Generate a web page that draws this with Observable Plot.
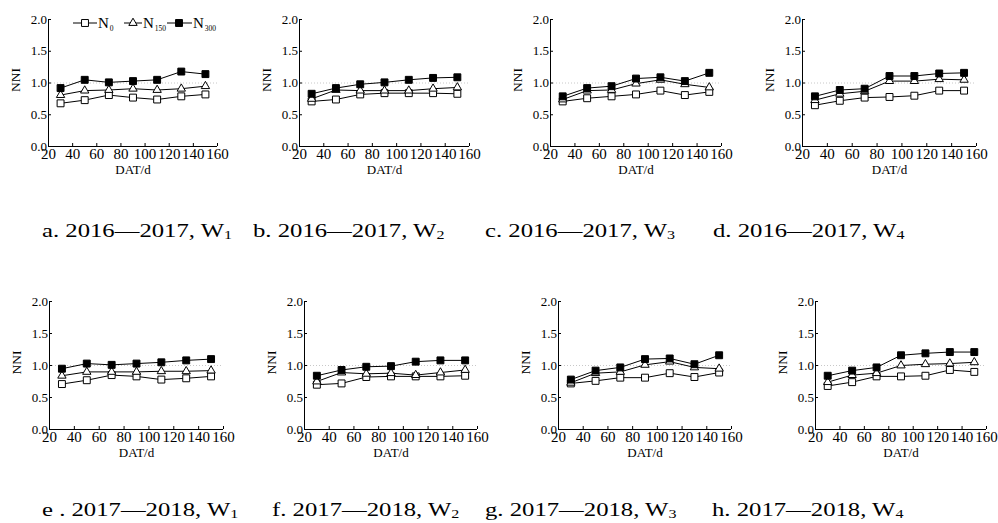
<!DOCTYPE html>
<html>
<head>
<meta charset="utf-8">
<script src="https://cdn.jsdelivr.net/npm/d3@7"></script>
<script src="https://cdn.jsdelivr.net/npm/@observablehq/plot@0.6"></script>
<style>
  body { margin: 0; background: #fff; }
  #fig { position: relative; width: 998px; height: 523px; overflow: hidden; background: #fff;
         font-family: "Liberation Serif", "Times New Roman", serif; color: #000; }
  #fig svg, #fig svg text { font-family: "Liberation Serif", "Times New Roman", serif !important; }
  .panel { position: absolute; }
  .panel svg { overflow: visible; max-width: none !important; display: block; }
  .cap { position: absolute; font-size: 19px; line-height: 19px; white-space: nowrap;
         transform-origin: left top; transform: scaleX(1.3); }
  .cap .sb { font-size: 0.65em; position: relative; top: 0.2em; }
  #legend { position: absolute; left: 0; top: 0; }
</style>
</head>
<body>
<div id="fig"></div>
<script>
// ---------------- data ----------------
const dat = [30, 50, 70, 90, 110, 130, 150];           // days after transplanting
const xTicks = [20, 40, 60, 80, 100, 120, 140, 160];
const yTicks = [0, 0.5, 1.0, 1.5, 2.0];
const treatments = ["N0", "N150", "N300"];
const treatmentSubs = ["0", "150", "300"];
const panelIds = ["a", "b", "c", "d", "e", "f", "g", "h"];
const captionPrefix = ["a.", "b.", "c.", "d.", "e .", "f.", "g.", "h."];
const seasons = ["2016—2017", "2016—2017", "2016—2017", "2016—2017",
                 "2017—2018", "2017—2018", "2017—2018", "2017—2018"];
const waterSubs = ["1", "2", "3", "4", "1", "2", "3", "4"];

const nni_N0 = [
  [0.68, 0.73, 0.81, 0.77, 0.74, 0.79, 0.82],
  [0.71, 0.74, 0.82, 0.84, 0.84, 0.84, 0.83],
  [0.71, 0.76, 0.79, 0.82, 0.88, 0.81, 0.86],
  [0.65, 0.72, 0.77, 0.78, 0.80, 0.88, 0.88],
  [0.71, 0.77, 0.85, 0.83, 0.78, 0.80, 0.83],
  [0.70, 0.72, 0.82, 0.83, 0.83, 0.83, 0.84],
  [0.72, 0.76, 0.81, 0.81, 0.88, 0.82, 0.89],
  [0.68, 0.74, 0.83, 0.83, 0.84, 0.93, 0.90]
];
const nni_N150 = [
  [0.81, 0.88, 0.89, 0.91, 0.89, 0.91, 0.95],
  [0.75, 0.89, 0.88, 0.88, 0.88, 0.91, 0.93],
  [0.74, 0.88, 0.89, 0.99, 1.05, 0.98, 0.93],
  [0.73, 0.83, 0.87, 1.03, 1.03, 1.06, 1.05],
  [0.84, 0.90, 0.90, 0.90, 0.91, 0.91, 0.92],
  [0.75, 0.89, 0.87, 0.88, 0.85, 0.89, 0.93],
  [0.73, 0.88, 0.90, 1.01, 1.06, 0.97, 0.95],
  [0.74, 0.85, 0.88, 1.00, 1.02, 1.03, 1.05]
];
const nni_N300 = [
  [0.92, 1.05, 1.01, 1.03, 1.05, 1.18, 1.14],
  [0.83, 0.92, 0.98, 1.01, 1.05, 1.08, 1.09],
  [0.79, 0.92, 0.95, 1.07, 1.09, 1.03, 1.16],
  [0.79, 0.89, 0.91, 1.11, 1.11, 1.15, 1.16],
  [0.95, 1.03, 1.01, 1.03, 1.05, 1.08, 1.10],
  [0.84, 0.93, 0.98, 0.99, 1.06, 1.08, 1.08],
  [0.78, 0.92, 0.97, 1.10, 1.11, 1.02, 1.16],
  [0.84, 0.92, 0.97, 1.16, 1.19, 1.21, 1.21]
];
const seriesValues = {N0: nni_N0, N150: nni_N150, N300: nni_N300};

// ---------------- styles / layout ----------------
const FONT = '"Liberation Serif", "Times New Roman", serif';
const seriesStyle = {
  N0:   {symbol: "square",   fill: "white", r: 3.9},
  N150: {symbol: "triangle", fill: "white", r: 3.1},
  N300: {symbol: "square",   fill: "black", r: 3.9}
};
// plot-area boxes (frame of each panel, in page pixels)
const boxes = [
  {x: 48,  y: 19,  w: 169, h: 127},
  {x: 299, y: 19,  w: 170, h: 127},
  {x: 550, y: 19,  w: 171, h: 127},
  {x: 802, y: 19,  w: 174, h: 127},
  {x: 49,  y: 301, w: 174, h: 128},
  {x: 304, y: 301, w: 173, h: 128},
  {x: 558, y: 301, w: 173, h: 128},
  {x: 815, y: 301, w: 171, h: 128}
];
const captionPos = [
  {x: 42, y: 221}, {x: 253, y: 221}, {x: 485, y: 221}, {x: 713, y: 221},
  {x: 42, y: 500}, {x: 272, y: 500}, {x: 485, y: 500}, {x: 712, y: 500}
];
const M = {top: 12, right: 16, bottom: 38, left: 42};

const fig = document.getElementById("fig");

panelIds.forEach((id, p) => {
  const b = boxes[p];
  const rows = [];
  treatments.forEach(t => {
    seriesValues[t][p].forEach((v, i) => rows.push({t, dat: dat[i], nni: v}));
  });

  const marks = [
    Plot.ruleY([1.0], {stroke: "#c8c8c8", strokeWidth: 1, strokeDasharray: "1,2"}),
    Plot.ruleX([20], {stroke: "black", strokeWidth: 1}),
    Plot.ruleY([0], {stroke: "black", strokeWidth: 1}),
    Plot.axisX({ticks: xTicks, tickSize: -3, tickPadding: 5, fontSize: 15, fontFamily: FONT,
                tickFormat: d => String(d), label: null}),
    Plot.axisY({ticks: yTicks, tickSize: -3, tickPadding: 4.5, fontSize: 13, fontFamily: FONT,
                tickFormat: d3.format(".1f"), label: null}),
    Plot.text(["NNI"], {text: d => d, frameAnchor: "left", rotate: -90, dx: -33, dy: 9,
                        fontSize: 13.5, fontFamily: FONT}),
    Plot.text(["DAT/d"], {text: d => d, frameAnchor: "bottom", dy: 27, fontSize: 13, fontFamily: FONT})
  ];
  treatments.forEach(t => {
    const s = seriesStyle[t];
    const data = rows.filter(r => r.t === t);
    marks.push(Plot.line(data, {x: "dat", y: "nni", stroke: "black", strokeWidth: 1}));
    marks.push(Plot.dot(data, {x: "dat", y: "nni", symbol: () => s.symbol, r: s.r,
                               fill: s.fill, stroke: "black", strokeWidth: 1}));
  });

  const W = b.w + M.left + M.right, H = b.h + M.top + M.bottom;
  const chart = Plot.plot({
    width: W,
    height: H,
    marginTop: M.top, marginRight: M.right, marginBottom: M.bottom, marginLeft: M.left,
    style: {fontFamily: FONT, color: "black", background: "transparent"},
    x: {domain: [20, 160]},
    y: {domain: [0, 2]},
    symbol: {type: "identity"},
    marks
  });
  const holder = document.createElement("div");
  holder.className = "panel";
  holder.style.left = (b.x - M.left) + "px";
  holder.style.top = (b.y - M.top) + "px";
  holder.style.width = W + "px";
  holder.style.height = H + "px";
  holder.appendChild(chart);
  fig.appendChild(holder);

  // caption
  const cap = document.createElement("div");
  cap.className = "cap";
  cap.style.left = captionPos[p].x + "px";
  cap.style.top = captionPos[p].y + "px";
  cap.innerHTML = `${captionPrefix[p]} ${seasons[p]}, W<span class="sb">${waterSubs[p]}</span>`;
  fig.appendChild(cap);
});

// ---------------- legend (in panel a) ----------------
const lg = d3.create("svg").attr("id", "legend").attr("width", 240).attr("height", 40)
  .style("font-family", FONT);
const legendItems = [
  {x0: 73,  x1: 97,  sx: 85,  tx: 98},
  {x0: 124, x1: 142, sx: 133, tx: 143},
  {x0: 167, x1: 192, sx: 179, tx: 193}
];
const ly = 23;
treatments.forEach((t, i) => {
  const it = legendItems[i], s = seriesStyle[t];
  lg.append("line").attr("x1", it.x0).attr("x2", it.x1).attr("y1", ly).attr("y2", ly)
    .attr("stroke", "black").attr("stroke-width", 1);
  lg.append("path")
    .attr("d", d3.symbol(s.symbol === "square" ? d3.symbolSquare : d3.symbolTriangle, s.r * s.r * Math.PI)())
    .attr("transform", `translate(${it.sx},${ly})`)
    .attr("fill", s.fill).attr("stroke", "black").attr("stroke-width", 1);
  const tx = lg.append("text").attr("x", it.tx).attr("y", ly + 5).attr("font-size", 15);
  tx.append("tspan").text("N");
  tx.append("tspan").attr("font-size", 7.5).attr("dy", 3).attr("dx", 1).text(treatmentSubs[i]);
});
fig.appendChild(lg.node());
</script>
</body>
</html>
